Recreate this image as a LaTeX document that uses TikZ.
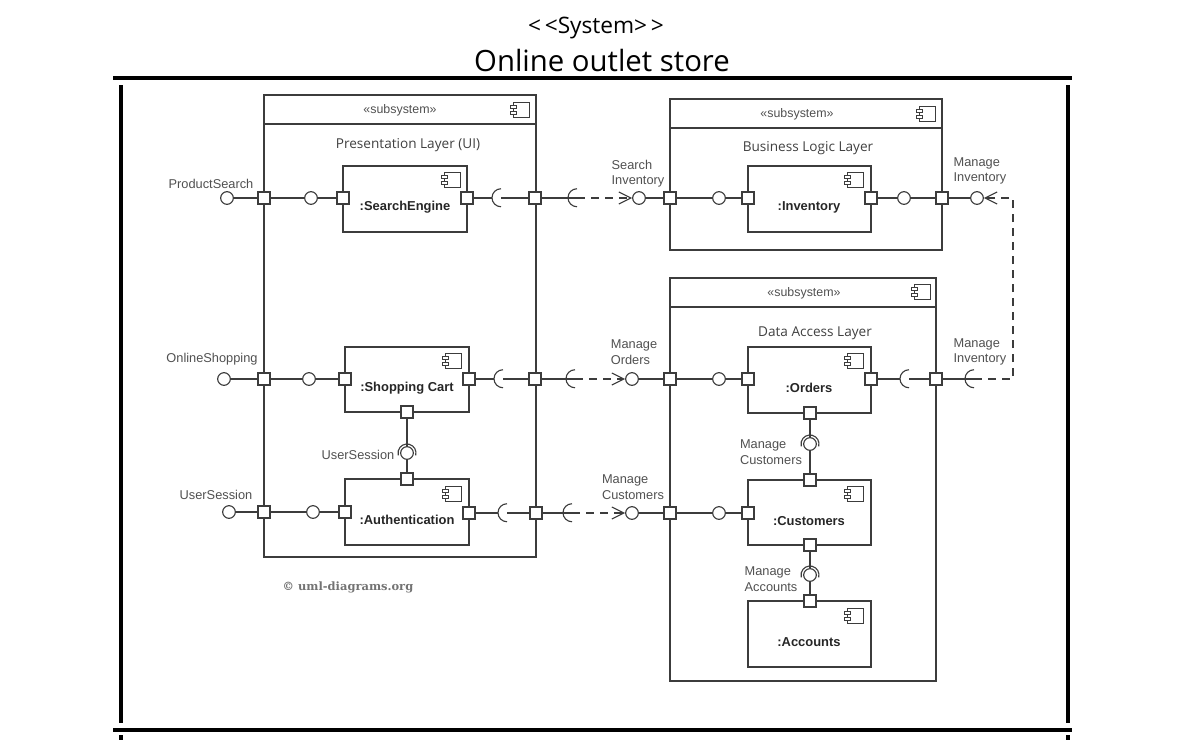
\documentclass[tikz,border=0pt]{standalone}
\usepackage{fontspec}
\setmainfont{Liberation Sans}
\newfontfamily\titlefont{Open Sans}
\newfontfamily\markfont{DejaVu Serif}
\usetikzlibrary{arrows.meta,fit}
\definecolor{umlline}{HTML}{3C3C3C}
\definecolor{umltext}{HTML}{505050}
\tikzset{
    frameline/.style={line width=3pt,black},
    umlbox/.style={draw=umlline,line width=0.85pt,inner sep=0pt},
    port/.style={draw=umlline,line width=0.85pt,fill=white,rectangle,minimum size=9pt,inner sep=0pt},
    ball/.style={draw=umlline,line width=0.85pt,fill=white,circle,minimum size=9.5pt,inner sep=0pt},
    socket/.style={circle,minimum size=13.5pt,inner sep=0pt},
    wire/.style={draw=umlline,line width=0.85pt},
    dep/.style={draw=umlline,line width=0.85pt,dash pattern=on 6pt off 4.5pt},
    tag/.style={text=umltext,font=\fontsize{9.6}{11.5}\selectfont,align=left,inner sep=0pt},
    layername/.style={text=umltext!80!black,font=\titlefont\fontsize{10.2}{12}\selectfont,inner sep=0pt},
    stereo/.style={text=umltext,font=\fontsize{9.3}{11}\selectfont,inner sep=0pt},
    compname/.style={text=black!85,font=\bfseries\fontsize{9.7}{11}\selectfont,inner sep=0pt},
    compicon/.pic={
        \draw[draw=umlline,line width=0.65pt,fill=white] (-8,-8) rectangle (8,7);
        \draw[draw=umlline,line width=0.65pt,fill=white] (-11,-5) rectangle (-5,-2);
        \draw[draw=umlline,line width=0.65pt,fill=white] (-11,1) rectangle (-5,4);
    }
}
\begin{document}
\begin{tikzpicture}[x=0.75pt,y=-0.75pt]
    \useasboundingbox (0,0) rectangle (1179,740);

    % title and frame
    \node[font=\titlefont\fontsize{17}{19}\selectfont,inner sep=0pt] (stereotitle) at (596,28) {<\,<System>\,>};
    \node[font=\titlefont\fontsize{22}{26}\selectfont,inner sep=0pt] (maintitle) at (602,60) {Online outlet store};
    \draw[frameline] (113,78) -- (1072,78);
    \draw[frameline] (113,730) -- (1072,730);
    \draw[frameline] (121,85) -- (121,723);
    \draw[frameline] (1068,85) -- (1068,723);
    \draw[frameline] (121,735) -- (121,740);
    \draw[frameline] (1068,735) -- (1068,740);

    % subsystems
    \node[umlbox,fit={(264,95) (536,557)}] (presentation) {};
    \node[umlbox,fit={(670,99) (942,250)}] (business) {};
    \node[umlbox,fit={(670,278) (936,681)}] (dataaccess) {};
    \draw[wire] (264,124) -- (536,124);
    \draw[wire] (670,128) -- (942,128);
    \draw[wire] (670,307) -- (936,307);
    \node[stereo] (stereoa) at (400,110) {«subsystem»};
    \node[stereo] (stereob) at (797,114) {«subsystem»};
    \node[stereo] (stereoc) at (804,293) {«subsystem»};
    \node[layername] (namea) at (408,145) {Presentation Layer (UI)};
    \node[layername] (nameb) at (808,148) {Business Logic Layer};
    \node[layername] (namec) at (815,333) {Data Access Layer};

    % components
    \node[umlbox,fit={(343,166) (467,232)}] (searchengine) {};
    \node[umlbox,fit={(345,347) (469,412)}] (cart) {};
    \node[umlbox,fit={(345,479) (469,545)}] (auth) {};
    \node[umlbox,fit={(748,166) (871,232)}] (inventory) {};
    \node[umlbox,fit={(748,347) (871,413)}] (orders) {};
    \node[umlbox,fit={(748,480) (871,545)}] (customers) {};
    \node[umlbox,fit={(748,601) (871,667)}] (accounts) {};
    \node[compname] (searchname) at (405,207) {:SearchEngine};
    \node[compname] (cartname) at (407,388) {:Shopping Cart};
    \node[compname] (authname) at (407,520) {:Authentication};
    \node[compname] (inventoryname) at (809,207) {:Inventory};
    \node[compname] (ordersname) at (809,388) {:Orders};
    \node[compname] (customersname) at (809,521) {:Customers};
    \node[compname] (accountsname) at (809,642) {:Accounts};
    \foreach \x/\y in {521/110,927/114,922/292,452/180,453/361,453/494,855/180,855/361,855/494,855/616}
        \pic at (\x,\y) {compicon};

    % ports
    \foreach \n/\x/\y in {pa/264/198,pb/343/198,pc/467/198,pd/535/198,pe/670/198,pf/748/198,pg/871/198,ph/942/198,
        qa/264/379,qb/345/379,qc/469/379,qd/535/379,qe/670/379,qf/748/379,qg/871/379,qh/936/379,
        ra/264/512,rb/345/512,rc/469/513,rd/536/513,re/670/513,rf/748/513,
        ua/407/412,ub/407/479,va/810/413,vb/810/480,vc/810/545,vd/810/601}
        \node[port] (\n) at (\x,\y) {};

    % provided interfaces
    \foreach \n/\x/\y in {ba/227/198,bb/311/198,bc/639/198,bd/719/198,be/904/198,bf/977/198,
        ca/224/379,cb/309/379,cc/632/379,cd/719/379,
        da/229/512,db/313/512,dc/632/513,dd/719/513,
        ea/407/453,eb/810/444,ec/810/575}
        \node[ball] (\n) at (\x,\y) {};

    % required interfaces
    \foreach \n/\x/\y in {sa/501/198,sb/577/198,sc/503/379,sd/575/379,se/909/379,sf/974/379,sg/507/513,sh/572/513}
        \node[socket] (\n) at (\x,\y) {};
    \foreach \n in {sa,sb,sc,sd,se,sf,sg,sh}
        \draw[wire] (\n.north) arc (90:270:6.75pt);
    \foreach \n in {ea,eb,ec}
        \draw[wire] ([shift={(-15:6.75pt)}]\n.center) arc (-15:195:6.75pt);
    \coordinate (bend) at (1013,198);
    \coordinate (bendlow) at (1013,379);

    % connectors
    \foreach \a/\b in {ba/pa,pa/bb,bb/pb,pc/sa,bc/pe,pe/bd,bd/pf,pg/be,be/ph,ph/bf,
        ca/qa,qa/cb,cb/qb,qc/sc,cc/qe,qe/cd,cd/qf,qg/se,
        da/ra,ra/db,db/rb,rc/sg,dc/re,re/dd,dd/rf,
        ua/ea,ea/ub,va/eb,eb/vb,vc/ec,ec/vd}
        \draw[wire] (\a) -- (\b);
    \foreach \a/\b in {pd/sa,pd/sb,qd/sc,qd/sd,qh/se,qh/sf,rd/sg,rd/sh}
        \draw[wire] (\a) -- (\b.center);
    \foreach \a/\b in {sb/bc,sd/cc,sh/dc}
        \draw[dep,-{Straight Barb[length=9pt,width=9pt,sep=0pt]}] (\a.center) -- (\b);
    \draw[dep,-{Straight Barb[length=9pt,width=9pt,sep=0pt]}] (sf.center) -- (bendlow) -- (bend) -- (bf);

    % labels
    \node[tag] (lproduct) at (211,184) {ProductSearch};
    \node[tag] (lonline) at (212,359) {OnlineShopping};
    \node[tag] (lsessiona) at (216,495) {UserSession};
    \node[tag] (lsessionb) at (358,455) {UserSession};
    \node[tag] (lsearch) at (638,174) {Search\\Inventory};
    \node[tag] (lorders) at (634,352) {Manage\\Orders};
    \node[tag] (lcustomersa) at (633,487) {Manage\\Customers};
    \node[tag] (linventorya) at (980,171) {Manage\\Inventory};
    \node[tag] (linventoryb) at (980,352) {Manage\\Inventory};
    \node[tag] (lcustomersb) at (771,452) {Manage\\Customers};
    \node[tag] (laccounts) at (771,579) {Manage\\Accounts};
    \node[text=black!55,font=\markfont\bfseries\fontsize{8.6}{10}\selectfont,inner sep=0pt] (copyright) at (348,587) {© uml-diagrams.org};
\end{tikzpicture}
\end{document}
